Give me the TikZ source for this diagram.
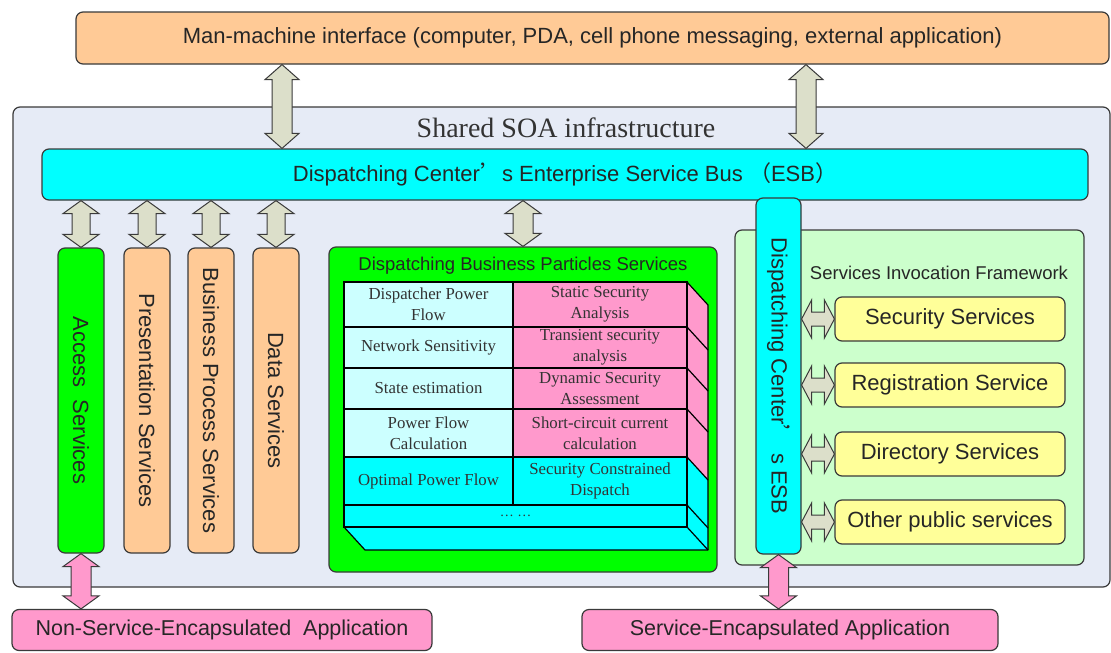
\documentclass[tikz,border=0pt]{standalone}
\usepackage{fontspec}
\setmainfont{Liberation Serif}
\setsansfont{Liberation Sans}
\newfontfamily\cjk{Noto Sans CJK SC}
\usetikzlibrary{calc}

\definecolor{peach}{HTML}{FFCA96}
\definecolor{soabg}{HTML}{E6EBF6}
\definecolor{esbcyan}{HTML}{00FFFF}
\definecolor{brightgreen}{HTML}{00FF00}
\definecolor{palegreen}{HTML}{CCFFCC}
\definecolor{paleyellow}{HTML}{FFFF99}
\definecolor{pinkc}{HTML}{FF99CC}
\definecolor{lightcyan}{HTML}{CCFFFF}
\definecolor{arrowfill}{HTML}{DCDFCA}
\definecolor{edgec}{HTML}{3A3A3A}
\definecolor{tabletext}{HTML}{333333}

% vertical double block arrow: fill, head half-width, shaft half-width, head length, top point, bottom point
\newcommand\vdarrow[6]{%
  \draw[blockarr, fill=#1] (#5) -- ([shift={(#2,-#4)}]#5) -- ([shift={(#3,-#4)}]#5)
    -- ([shift={(#3,#4)}]#6) -- ([shift={(#2,#4)}]#6) -- (#6)
    -- ([shift={(-#2,#4)}]#6) -- ([shift={(-#3,#4)}]#6)
    -- ([shift={(-#3,-#4)}]#5) -- ([shift={(-#2,-#4)}]#5) -- cycle;}
% horizontal double block arrow: fill, head half-height, shaft half-height, head length, left point, right point
\newcommand\hdarrow[6]{%
  \draw[blockarr, fill=#1] (#5) -- ([shift={(#4,#2)}]#5) -- ([shift={(#4,#3)}]#5)
    -- ([shift={(-#4,#3)}]#6) -- ([shift={(-#4,#2)}]#6) -- (#6)
    -- ([shift={(-#4,-#2)}]#6) -- ([shift={(-#4,-#3)}]#6)
    -- ([shift={(#4,-#3)}]#5) -- ([shift={(#4,-#2)}]#5) -- cycle;}

\tikzset{
  box/.style={draw=edgec, line width=1.2pt, rounded corners=7pt, inner sep=0pt,
    font=\sffamily\fontsize{22}{26}\selectfont, text=black!85},
  vtext/.style={rotate=-90, inner sep=0pt, font=\sffamily\fontsize{22}{26}\selectfont, text=black!85},
  titletext/.style={inner sep=0pt, font=\sffamily\fontsize{18.5}{22}\selectfont, text=black!85},
  blockarr/.style={draw=edgec, line width=1pt, line join=miter},
  cell/.style={draw=black, line width=1.2pt, inner sep=0pt, align=center,
    font=\rmfamily\fontsize{16.8}{21}\selectfont, text=tabletext},
  face/.style={draw=black, line width=1.2pt, line join=round},
}

\begin{document}
\begin{tikzpicture}[x=1pt,y=-1pt]
\useasboundingbox (0,0) rectangle (1111,653);
\fill[white] (0,0) rectangle (1111,653);

% top interface
\node[box, fill=peach, minimum width=1033pt, minimum height=52pt] (mmi) at (592.5,38)
  {Man-machine interface (computer, PDA, cell phone messaging, external application)};

% shared SOA infrastructure
\node[box, fill=soabg, minimum width=1097pt, minimum height=480pt] (soa) at (561.5,347) {};
\node[inner sep=0pt, font=\rmfamily\fontsize{28}{32}\selectfont, text=black!80] (soatitle) at (566,128) {Shared SOA infrastructure};

% ESB bar
\node[box, fill=esbcyan, minimum width=1046pt, minimum height=51pt] (esb) at (565,174.5)
  {Dispatching Center{\cjk ’}s Enterprise Service Bus {\cjk （}ESB{\cjk ）}};

% vertical service columns
\node[box, fill=brightgreen, minimum width=46pt, minimum height=305pt] (access) at (81,400.5) {};
\node[box, fill=peach, minimum width=46pt, minimum height=305pt] (pres) at (147,400.5) {};
\node[box, fill=peach, minimum width=46pt, minimum height=305pt] (bpm) at (211,400.5) {};
\node[box, fill=peach, minimum width=46pt, minimum height=305pt] (data) at (276,400.5) {};
\node[vtext] (accesst) at (access.center) {Access\ \ Services};
\node[vtext] (prest) at (pres.center) {Presentation Services};
\node[vtext] (bpmt) at (bpm.center) {Business Process Services};
\node[vtext] (datat) at (data.center) {Data Services};

% dispatching business particles services
\node[box, fill=brightgreen, minimum width=388pt, minimum height=325pt] (dbps) at (523,409.5) {};
\node[titletext] (dbpstitle) at (523,266) {Dispatching Business Particles Services};

% 3D side and bottom faces of the table block
\fill[pinkc] (687,282) -- (708,305) -- (708,480) -- (687,457) -- cycle;
\fill[esbcyan] (687,457) -- (708,480) -- (708,550) -- (687,527) -- cycle;
\fill[esbcyan] (344,527) -- (687,527) -- (708,550) -- (365,550) -- cycle;
\draw[face] (687,282) -- (708,305) -- (708,550) -- (365,550) -- (344,527);
\draw[face] (687,527) -- (708,550);
\foreach \yy in {327,368,409,457,505} \draw[face] (687,\yy) -- (708,\yy+23);

% table cells
\node[cell, fill=lightcyan, minimum width=169pt, minimum height=45pt] (c11) at (428.5,304.5) {Dispatcher Power\\Flow};
\node[cell, fill=pinkc, minimum width=174pt, minimum height=45pt] (c12) at (600,304.5) {Static Security\\Analysis};
\node[cell, fill=lightcyan, minimum width=169pt, minimum height=41pt] (c21) at (428.5,347.5) {Network Sensitivity};
\node[cell, fill=pinkc, minimum width=174pt, minimum height=41pt] (c22) at (600,347.5) {Transient security\\analysis};
\node[cell, fill=lightcyan, minimum width=169pt, minimum height=41pt] (c31) at (428.5,388.5) {State estimation};
\node[cell, fill=pinkc, minimum width=174pt, minimum height=41pt] (c32) at (600,388.5) {Dynamic Security\\Assessment};
\node[cell, fill=lightcyan, minimum width=169pt, minimum height=48pt] (c41) at (428.5,433) {Power Flow\\Calculation};
\node[cell, fill=pinkc, minimum width=174pt, minimum height=48pt] (c42) at (600,433) {Short-circuit current\\calculation};
\node[cell, fill=esbcyan, minimum width=169pt, minimum height=48pt] (c51) at (428.5,481) {Optimal Power Flow};
\node[cell, fill=esbcyan, minimum width=174pt, minimum height=48pt] (c52) at (600,481) {Security Constrained\\Dispatch};
\node[cell, fill=esbcyan, minimum width=343pt, minimum height=22pt, font=\rmfamily\fontsize{14}{16}\selectfont] (c6) at (515.5,516) {…\ …};

% services invocation framework
\node[box, fill=palegreen, minimum width=349pt, minimum height=335pt] (sif) at (909.5,397.5) {};
\node[titletext] (siftitle) at (939,273) {Services Invocation Framework};

% vertical ESB
\node[box, fill=esbcyan, minimum width=45pt, minimum height=356pt] (vesb) at (778.5,376) {};
\node[vtext] (vesbt) at (vesb.center) {Dispatching Center{\cjk ’} s ESB};

% yellow services
\node[box, fill=paleyellow, minimum width=230pt, minimum height=44pt] (sec) at (950,319) {Security Services};
\node[box, fill=paleyellow, minimum width=230pt, minimum height=44pt] (reg) at (950,385) {Registration Service};
\node[box, fill=paleyellow, minimum width=230pt, minimum height=44pt] (dir) at (950,454) {Directory Services};
\node[box, fill=paleyellow, minimum width=230pt, minimum height=44pt] (oth) at (950,522) {Other public services};

% bottom applications
\node[box, fill=pinkc, minimum width=420pt, minimum height=41pt, font=\sffamily\fontsize{21.5}{25}\selectfont] (nsea) at (222,630)
  {Non-Service-Encapsulated\ \ Application};
\node[box, fill=pinkc, minimum width=416pt, minimum height=41pt, font=\sffamily\fontsize{21.5}{25}\selectfont] (sea) at (790,630)
  {Service-Encapsulated Application};

% arrow end points
\coordinate (m1) at (282,0 |- mmi.south);
\coordinate (e1) at (282,0 |- esb.north);
\coordinate (m2) at (806,0 |- mmi.south);
\coordinate (e2) at (806,0 |- esb.north);
\coordinate (ed) at (523,0 |- esb.south);
\coordinate (ea) at (access.north |- esb.south);
\coordinate (ep) at (pres.north |- esb.south);
\coordinate (eb) at (bpm.north |- esb.south);
\coordinate (edd) at (data.north |- esb.south);
\coordinate (dt) at (523,0 |- dbps.north);
\coordinate (an) at (access.south |- nsea.north);
\coordinate (vs) at (vesb.south |- sea.north);

\vdarrow{arrowfill}{17pt}{10pt}{15pt}{m1}{e1}
\vdarrow{arrowfill}{17pt}{10pt}{15pt}{m2}{e2}
\vdarrow{arrowfill}{18pt}{9pt}{13pt}{ea}{access.north}
\vdarrow{arrowfill}{18pt}{9pt}{13pt}{ep}{pres.north}
\vdarrow{arrowfill}{18pt}{9pt}{13pt}{eb}{bpm.north}
\vdarrow{arrowfill}{18pt}{9pt}{13pt}{edd}{data.north}
\vdarrow{arrowfill}{18pt}{10pt}{13pt}{ed}{dt}
\vdarrow{pinkc}{18pt}{10pt}{13pt}{access.south}{an}
\vdarrow{pinkc}{18pt}{10pt}{13pt}{vesb.south}{vs}

\coordinate (h1) at (vesb.east |- sec.west);
\coordinate (h2) at (vesb.east |- reg.west);
\coordinate (h3) at (vesb.east |- dir.west);
\coordinate (h4) at (vesb.east |- oth.west);
\hdarrow{arrowfill}{19pt}{7pt}{10pt}{h1}{sec.west}
\hdarrow{arrowfill}{19pt}{7pt}{10pt}{h2}{reg.west}
\hdarrow{arrowfill}{19pt}{7pt}{10pt}{h3}{dir.west}
\hdarrow{arrowfill}{19pt}{7pt}{10pt}{h4}{oth.west}
\end{tikzpicture}
\end{document}
